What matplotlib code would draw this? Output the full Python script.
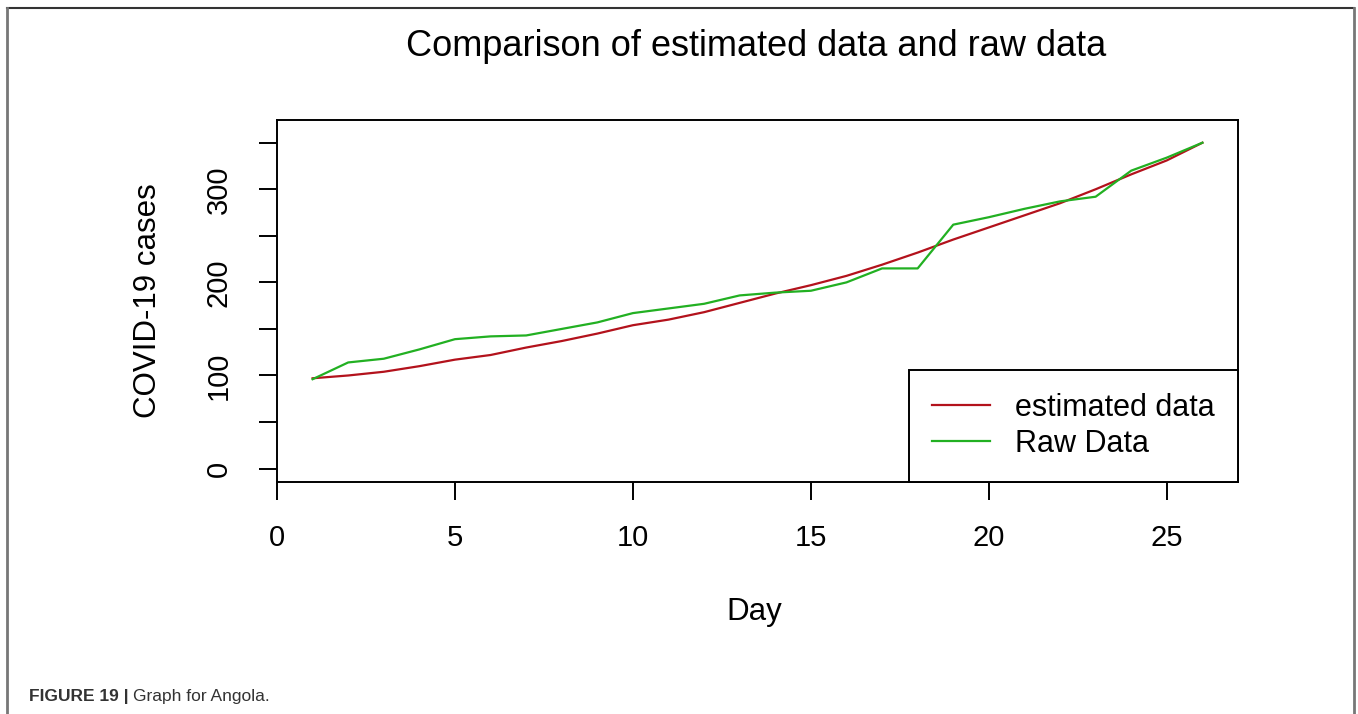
import matplotlib.pyplot as plt
from matplotlib.lines import Line2D

dbl_width  = 1358.0
dbl_height = 714.0
dbl_dpi    = 100.0

plt.rcParams['font.family'] = ['Liberation Sans', 'DejaVu Sans']

# daily series
days = list(range(1, 27))
estimated = [97, 100, 104, 110, 117, 122, 130, 137, 145, 154, 160, 168, 178,
             188, 197, 207, 219, 232, 246, 259, 272, 285, 300, 316, 331, 350]
raw = [96, 114, 118, 128, 139, 142, 143, 150, 157, 167, 172, 177, 186,
       189, 191, 200, 215, 215, 262, 270, 279, 287, 292, 320, 334, 350]

x_ticks = [0, 5, 10, 15, 20, 25]
y_ticks = [0, 50, 100, 150, 200, 250, 300, 350]
y_tick_labels = ['0', '', '100', '', '200', '', '300', '']

col_est = '#b3121c'
col_raw = '#22b022'
lw = 1.6

fig = plt.figure(figsize=(dbl_width / dbl_dpi, dbl_height / dbl_dpi), dpi=dbl_dpi)
ax = fig.add_axes([277 / dbl_width, 1 - 482 / dbl_height, 961 / dbl_width, 362 / dbl_height])

ax.plot(days, estimated, color=col_est, lw=lw, label='estimated data')
ax.plot(days, raw, color=col_raw, lw=lw, label='Raw Data')

ax.set_xlim(0, 27)
ax.set_ylim(-14.4, 374.4)
ax.set_xticks(x_ticks)
ax.set_yticks(y_ticks)
ax.set_yticklabels(y_tick_labels, rotation=90, va='center')

ax.tick_params(axis='both', length=13, width=1.4, labelsize=21, color='k')
ax.tick_params(axis='x', pad=17)
ax.tick_params(axis='y', pad=19)
for sp in ax.spines.values():
    sp.set_linewidth(1.4)
    sp.set_color('k')

ax.set_xlabel('Day', fontsize=22.5)
ax.xaxis.set_label_coords(0.497, -0.359)
ax.xaxis.label.set_va('center')
ax.set_ylabel('COVID-19 cases', fontsize=22.5)
ax.yaxis.set_label_coords(-0.134, 0.5)
ax.yaxis.label.set_va('center')
ax.yaxis.label.set_ha('center')

leg = ax.legend(loc='lower right', bbox_to_anchor=(1.0, 0.0), borderaxespad=0,
                fontsize=22, fancybox=False, framealpha=1, edgecolor='k',
                handlelength=1.9, handletextpad=0.82, borderpad=0.75,
                labelspacing=0.2)
leg.get_frame().set_linewidth(1.4)

fig.text(0.557, 1 - 46 / dbl_height, 'Comparison of estimated data and raw data',
         ha='center', va='center', fontsize=26)

# page frame around the figure
fig.add_artist(Line2D([7 / dbl_width, 1354 / dbl_width], [1 - 8 / dbl_height] * 2,
                      transform=fig.transFigure, color='#333333', lw=1.5))
fig.add_artist(Line2D([7 / dbl_width] * 2, [0, 1 - 8 / dbl_height],
                      transform=fig.transFigure, color='#777777', lw=2))
fig.add_artist(Line2D([1354 / dbl_width] * 2, [0, 1 - 8 / dbl_height],
                      transform=fig.transFigure, color='#777777', lw=2))

# caption
fig.text(29 / dbl_width, 1 - 697 / dbl_height, 'FIGURE 19 |', fontsize=12.5,
         fontweight='bold', color='#333333', va='center', ha='left')
fig.text(133 / dbl_width, 1 - 697 / dbl_height, 'Graph for Angola.', fontsize=12.5,
         color='#333333', va='center', ha='left')

fig.savefig('out.png', dpi=dbl_dpi)
